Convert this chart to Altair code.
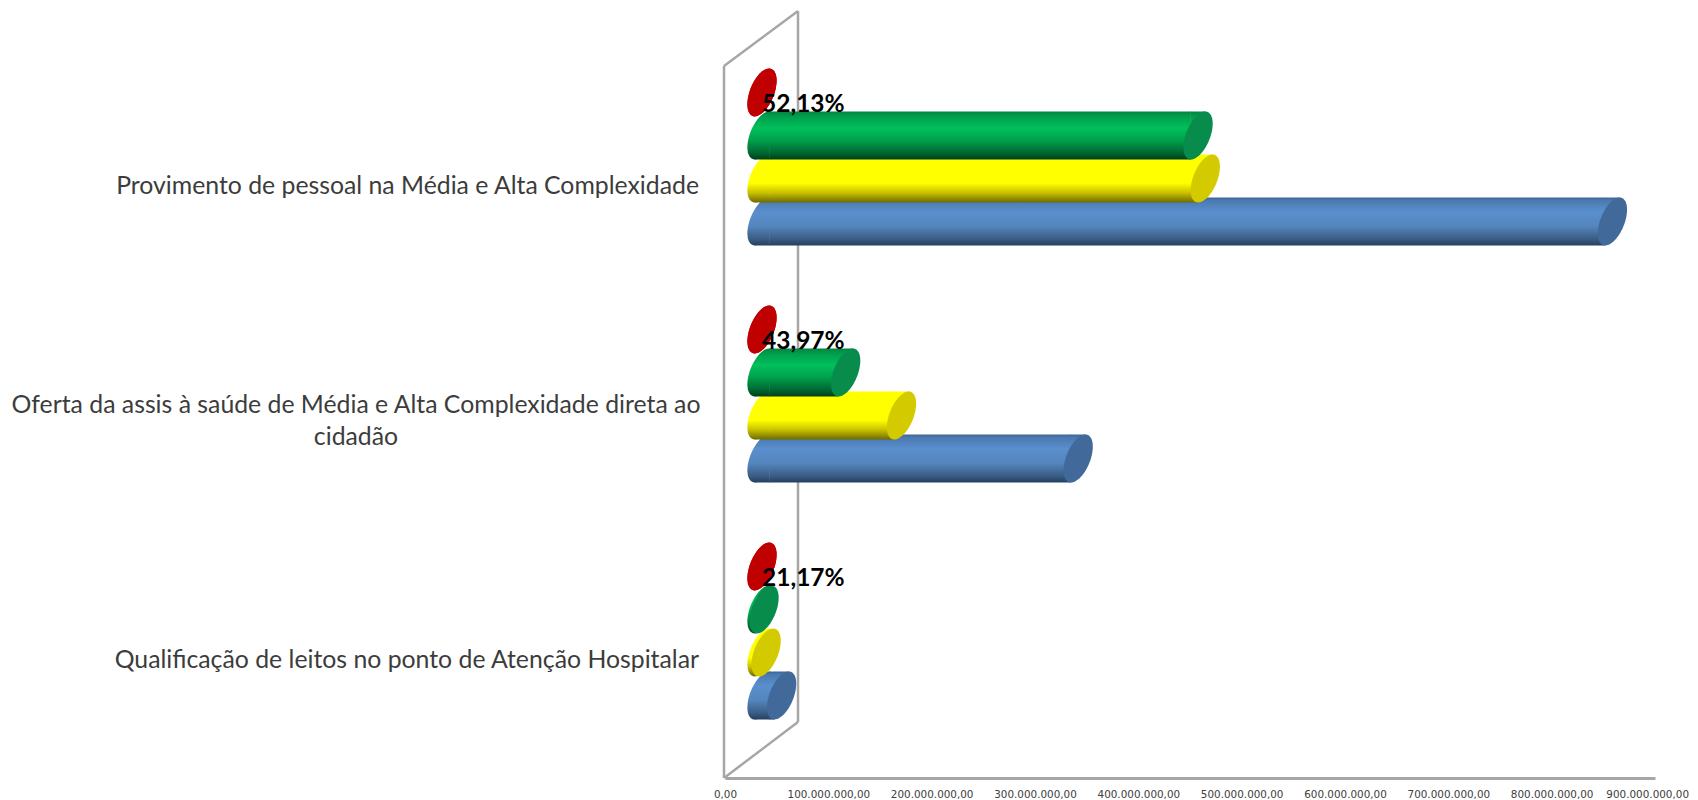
import altair as alt
import pandas as pd

# ---- data ----
categories = [
    "Provimento de pessoal na Média e Alta Complexidade",
    "Oferta da assis à saúde de Média e Alta Complexidade direta ao cidadão",
    "Qualificação de leitos no ponto de Atenção Hospitalar",
]
label_lines = [
    "Provimento de pessoal na Média e Alta Complexidade",
    "Oferta da assis à saúde de Média e Alta Complexidade direta ao|cidadão",
    "Qualificação de leitos no ponto de Atenção Hospitalar",
]
series_names = ["red", "green", "yellow", "blue"]
red_values = [0, 0, 0]
green_values = [422e6, 81e6, 2e6]
yellow_values = [429e6, 135e6, 4e6]
blue_values = [823e6, 306e6, 19e6]
percent_labels = ["52,13%", "43,97%", "21,17%"]
x_ticks = [i * 100e6 for i in range(10)]
last_tick_label = "900.000.000,00"

rows = []
for name, vals in zip(series_names, [red_values, green_values, yellow_values, blue_values]):
    for c, v in zip(categories, vals):
        rows.append({"cat": c, "series": name, "value": v, "start": 0})
df = pd.DataFrame(rows)
lab_df = pd.DataFrame({"cat": categories, "pct": percent_labels, "line": label_lines, "value": [0, 0, 0]})


def grad(stops):
    return alt.Gradient(
        gradient="linear", x1=0, y1=0, x2=0, y2=1,
        stops=[alt.GradientStop(offset=o, color=c) for o, c in stops],
    )


body = {
    "blue": [(0, "#3f6592"), (0.06, "#4a79b0"), (0.3, "#5a8fce"), (0.6, "#5485bd"), (0.85, "#3b5f88"), (1, "#24405e")],
    "yellow": [(0, "#ffff00"), (0.6, "#ffff00"), (0.8, "#c8c000"), (1, "#6f6a00")],
    "green": [(0, "#00853f"), (0.12, "#00a04e"), (0.35, "#00c05a"), (0.6, "#00a04c"), (0.85, "#006a32"), (1, "#003f1c")],
    "red": [(0, "#c00000"), (1, "#c00000")],
}
cap_color = {"blue": "#41699a", "yellow": "#d4ca00", "green": "#078c4c", "red": "#c00000"}

# tilted ellipse as a unit symbol (sheared circle)
w, k, K = 0.53, 0.30, 0.5523


def P(px, py):
    return f"{w * px - k * py:.3f},{py:.3f}"


ELLIPSE = (
    f"M{P(1, 0)}C{P(1, -K)} {P(K, -1)} {P(0, -1)}"
    f"C{P(-K, -1)} {P(-1, -K)} {P(-1, 0)}"
    f"C{P(-1, K)} {P(-K, 1)} {P(0, 1)}"
    f"C{P(K, 1)} {P(1, K)} {P(1, 0)}Z"
)
# triangles that close the cylinder body between the tilted ends
END_RIGHT = f"M{-k-0.02},-1L{k},-1L{-k-0.02},1Z"
END_LEFT = f"M{k+0.02},1L{-k},1L{k+0.02},-1Z"

DEPTH = 37
BAR = 48
SIZE = BAR * BAR
SHIFT = k * BAR / 2

x_scale = alt.Scale(domain=[0, 900e6], range=[0, 930], nice=False, clamp=False)
x_enc = alt.X(
    "value:Q",
    scale=x_scale,
    axis=alt.Axis(
        values=x_ticks, title=None, grid=False, ticks=False,
        domainColor="#a6a6a6", domainWidth=3,
        labelFont="DejaVu Sans", labelFontSize=10.4, labelColor="#404040",
        labelPadding=11, labelFlush=False, labelOverlap=False,
        # the last label is drawn by a text layer so that it stays inside the page
        labelExpr="datum.value == 900000000 ? '' : "
                  "replace(format(datum.value, ','), /,/g, '.') + ',00'",
    ),
)
y_enc = alt.Y(
    "cat:N", axis=None,
    scale=alt.Scale(domain=categories, paddingInner=0.274, paddingOuter=0.257),
)
yo_enc = alt.YOffset(
    "series:N",
    scale=alt.Scale(domain=series_names, paddingInner=0, paddingOuter=0),
)

base = alt.Chart(df)
layers = []

# 3D wall outline
wall = [(-1, 56, -1, 768), (-1, 56, 73, 1), (73, 1, 73, 712), (73, 712, -1, 768)]
for x1, y1, x2, y2 in wall:
    layers.append(
        alt.Chart(pd.DataFrame({"a": [0]})).mark_rule(color="#a6a6a6", strokeWidth=2.5).encode(
            x=alt.value(x1), y=alt.value(y1), x2=alt.value(x2), y2=alt.value(y2)
        )
    )

for name in reversed(series_names):
    s = base.transform_filter(alt.datum.series == name)
    g = grad(body[name])
    long_s = s.transform_filter(alt.datum.value > 10e6)
    # left rounded end
    layers.append(
        alt.Chart(df[df.series == name].assign(value=0))
        .mark_point(shape=ELLIPSE, size=SIZE, filled=True, opacity=1, fill=g, stroke=None, xOffset=DEPTH)
        .encode(x=x_enc, y=y_enc, yOffset=yo_enc)
    )
    if name != "red":
        layers.append(
            alt.Chart(df[(df.series == name) & (df.value > 10e6)].assign(value=0))
            .mark_point(shape=END_LEFT, size=SIZE, filled=True, opacity=1, fill=g, stroke=None, xOffset=DEPTH)
            .encode(x=x_enc, y=y_enc, yOffset=yo_enc)
        )
        layers.append(
            long_s.mark_bar(size=BAR, fill=g, xOffset=DEPTH - SHIFT, x2Offset=DEPTH + SHIFT, cornerRadius=0)
            .encode(x=x_enc, x2=alt.X2("start:Q"), y=y_enc, yOffset=yo_enc)
        )
        layers.append(
            long_s.mark_point(shape=END_RIGHT, size=SIZE, filled=True, opacity=1, fill=g, stroke=None, xOffset=DEPTH)
            .encode(x=x_enc, y=y_enc, yOffset=yo_enc)
        )
    layers.append(
        s.mark_point(shape=ELLIPSE, size=SIZE, filled=True, opacity=1, fill=cap_color[name], stroke=None, xOffset=DEPTH)
        .encode(x=x_enc, y=y_enc, yOffset=yo_enc)
    )

# value labels
lab = alt.Chart(lab_df)
layers.append(
    lab.mark_text(font="Lato", fontWeight="bold", fontSize=24.5, color="#000000", align="left",
                  baseline="middle", xOffset=DEPTH, dy=-52)
    .encode(x=x_enc, y=y_enc, text="pct:N")
)
# category labels
layers.append(
    lab.transform_filter("indexof(datum.line, '|') < 0")
    .mark_text(font="Lato", fontSize=24.8, color="#3c3c3c", align="right", baseline="middle", dy=30)
    .encode(x=alt.value(-26), y=y_enc, text="line:N")
)
layers.append(
    lab.transform_filter("indexof(datum.line, '|') >= 0")
    .mark_text(font="Lato", fontSize=24.8, color="#3c3c3c", align="center", baseline="middle",
               dy=12, lineBreak="|", lineHeight=32)
    .encode(x=alt.value(-369), y=y_enc, text="line:N")
)
# last tick label, kept inside the page
layers.append(
    alt.Chart(pd.DataFrame({"value": [x_ticks[-1]], "t": [last_tick_label]}))
    .mark_text(font="DejaVu Sans", fontSize=10.4, color="#404040", align="right",
               baseline="top", xOffset=34)
    .encode(x=x_enc, y=alt.value(779.5), text="t:N")
)

chart = (
    alt.layer(*layers)
    .properties(
        width=930, height=768,
        padding={"left": 717, "top": 2, "right": 35, "bottom": 22},
        autosize=alt.AutoSizeParams(type="none"),
        background="white",
    )
    .configure_view(stroke=None)
)
chart.save("out.html", embed_options={"renderer": "svg", "actions": False})
